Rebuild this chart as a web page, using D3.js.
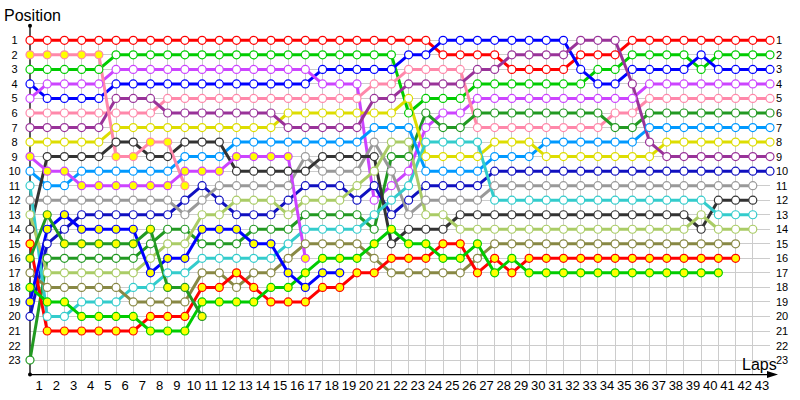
<!DOCTYPE html>
<html><head><meta charset="utf-8">
<script src="https://cdn.jsdelivr.net/npm/d3@7"></script>
<style>
body{margin:0;background:#fff}
svg text{font-family:"Liberation Sans",Arial,sans-serif;fill:#000}
</style></head>
<body><svg id="chart" width="800" height="400"></svg>
<script>
// ---- data (position per lap, laps 0..43; null = not running) ----
const lapTicks = d3.range(1, 44);
const posTicks = d3.range(1, 24);
const driverNames = ["A","B","C","D","E","F","G","H","I","J","K","L","M","N","O","P","Q","R","S","T","U"];
const posA = [1,1,1,1,1,1,1,1,1,1, 1,1,1,1,1,1,1,1,1,1, 1,1,1,1,2,2,2,2,3,3, 3,3,2,2,2,1,1,1,1,1, 1,1,1,1];
const posB = [3,3,3,3,3,2,2,2,2,2, 2,2,2,2,2,2,2,2,2,2, 2,2,6,5,5,5,4,4,4,4, 4,4,4,3,3,2,2,2,2,3, 2,2,2,2];
const posC = [4,5,5,5,5,4,4,4,4,4, 4,4,4,4,4,4,4,3,3,3, 3,3,2,2,1,1,1,1,1,1, 1,1,3,4,4,3,3,3,3,2, 3,3,3,3];
const posD = [5,4,4,4,4,3,3,3,3,3, 3,3,3,3,3,3,3,4,4,4, 12,11,10,7,6,6,5,5,5,5, 5,5,5,5,5,5,4,4,4,4, 4,4,4,4];
const posE = [6,6,6,6,6,6,6,6,5,5, 5,5,5,5,5,5,5,5,5,5, 4,4,3,3,3,3,7,7,7,7, 7,7,7,7,6,6,5,5,5,5, 5,5,5,5];
const posF = [23,16,16,16,16,16,16,15,14,14, 15,15,15,14,14,14,13,13,13,13, 14,9,9,6,7,7,6,6,6,6, 6,6,6,6,7,7,6,6,6,6, 6,6,6,6];
const posG = [10,11,11,10,10,10,10,10,10,9, 9,9,8,8,8,8,8,8,8,8, 7,7,7,10,10,10,10,9,9,9, 8,8,8,8,8,8,7,7,7,7, 7,7,7,7];
const posH = [8,8,8,8,8,7,7,7,7,7, 7,7,7,7,7,6,6,6,6,6, 6,6,5,9,9,9,9,8,8,8, 9,9,9,9,9,9,9,8,8,8, 8,8,8,8];
const posI = [7,7,7,7,7,5,5,5,6,6, 6,6,6,6,6,7,7,7,7,7, 5,5,4,4,4,4,3,3,2,2, 2,2,1,1,1,4,8,9,9,9, 9,9,9,9];
const posJ = [20,15,14,13,13,13,13,13,13,12, 11,12,13,13,13,12,11,11,11,12, 11,13,12,11,11,11,11,10,10,10, 10,10,10,10,10,10,10,10,10,10, 10,10,10,10];
const posK = [12,12,12,12,12,12,12,12,12,13, 12,11,11,11,11,11,9,10,10,10, 8,10,13,12,12,12,12,11,11,11, 11,11,11,11,11,11,11,11,11,11, 11,11,11,null];
const posL = [14,9,9,9,9,8,8,9,9,8, 8,8,10,10,10,10,10,9,9,9, 9,15,14,14,14,13,13,13,13,13, 13,13,13,13,13,13,13,13,13,14, 12,12,12,null];
const posM = [11,20,20,19,19,19,18,18,17,17, 16,16,16,16,16,15,14,14,14,14, 13,12,11,8,8,8,8,12,12,12, 12,12,12,12,12,12,12,12,12,12, 13,13,13,null];
const posN = [13,17,17,17,17,17,17,16,15,15, 13,13,12,12,12,13,12,12,12,11, 10,8,8,13,13,14,14,14,14,14, 14,14,14,14,14,14,14,14,14,13, 14,14,14,null];
const posO = [17,18,18,18,18,18,19,19,19,19, 17,17,18,17,17,16,15,15,15,15, 16,17,17,17,17,17,16,15,15,15, 15,15,15,15,15,15,15,15,15,15, 15,15,null,null];
const posP = [15,21,21,21,21,21,21,20,20,20, 18,18,17,18,19,19,19,18,18,17, 17,16,16,16,15,15,17,16,17,16, 16,16,16,16,16,16,16,16,16,16, 16,16,null,null];
const posQ = [18,19,19,20,20,20,20,21,21,21, 19,19,19,19,18,18,17,16,16,16, 15,14,15,15,16,16,15,17,16,17, 17,17,17,17,17,17,17,17,17,17, 17,null,null,null];
const posR = [2,2,2,2,2,9,9,8,8,11];
const posS = [9,10,10,11,11,11,11,11,11,10, 10,10,9,9,9,9,16];
const posT = [19,14,13,14,14,14,14,17,16,16, 14,14,14,15,15,17,18,17,17];
const posU = [16,13,15,15,15,15,15,14,18,18, 20];

// ---- styles ----
const lineColors = ["#ff0000","#00cc00","#0000ff","#cc44ff","#ff88aa","#229922","#0099ff","#dddd00","#993399","#1010c0","#999999","#333333","#33cccc","#aacc66","#888844","#ff0000","#00cc00","#ff88aa","#cc44ff","#0000ff","#229922"];
const markerFill = ["#fff","#fff","#fff","#fff","#fff","#fff","#fff","#fff","#fff","#fff","#fff","#fff","#fff","#fff","#fff","#ffff00","#ffff00","#ffff00","#ffff00","#ffff00","#ffff00"];
const series = [posA,posB,posC,posD,posE,posF,posG,posH,posI,posJ,posK,posL,posM,posN,posO,posP,posQ,posR,posS,posT,posU];

const svg = d3.select("#chart");
const x = d3.scaleLinear().domain([0, 43]).range([30, 770]);
const y = d3.scaleLinear().domain([0, 24]).range([25.8, 374.6]);
const step = x(1) - x(0);

// grid
const grid = svg.append("g").attr("stroke", "#cccccc").attr("stroke-width", 1);
grid.selectAll("line.v").data(d3.range(1, 43)).join("line").attr("class","v")
  .attr("x1", d => x(d)).attr("x2", d => x(d)).attr("y1", y(1)).attr("y2", y(24)).attr("shape-rendering","crispEdges");
grid.selectAll("line.h").data(posTicks).join("line").attr("class","h")
  .attr("x1", x(0)).attr("x2", x(43)).attr("y1", d => y(d)).attr("y2", d => y(d)).attr("shape-rendering","crispEdges");

// axes labels
const bottom = svg.append("g").attr("transform", `translate(0,${y(24)})`)
  .call(d3.axisBottom(x).tickValues(lapTicks).tickSize(0).tickPadding(6).tickFormat(d3.format("d")));
bottom.select(".domain").remove();
bottom.selectAll("text").attr("dx", -step/2).attr("font-size", 13).attr("font-family", "Liberation Sans, Arial, sans-serif");

const left = svg.append("g").attr("transform", "translate(14.5,0)")
  .call(d3.axisLeft(y).tickValues(posTicks).tickSize(0).tickPadding(0).tickFormat(d3.format("d")));
left.select(".domain").remove();
left.selectAll("text").attr("text-anchor", "middle").attr("font-size", 11).attr("font-family", "Liberation Sans, Arial, sans-serif");

const right = svg.append("g").attr("transform", "translate(776,0)")
  .call(d3.axisRight(y).tickValues(posTicks).tickSize(0).tickPadding(0).tickFormat(d3.format("d")));
right.select(".domain").remove();
right.selectAll("text").attr("font-size", 11).attr("font-family", "Liberation Sans, Arial, sans-serif");

// axis lines
svg.append("line").attr("x1", x(0)).attr("x2", x(0)).attr("y1", y(0)).attr("y2", y(24)).attr("stroke", "#000").attr("stroke-width", 1.3);
svg.append("line").attr("x1", x(0)).attr("x2", 770).attr("y1", y(24)).attr("y2", y(24)).attr("stroke", "#000").attr("stroke-width", 1.3);
svg.append("path").attr("d", `M767,${y(24)-3.5} L778,${y(24)} L767,${y(24)+3.5} Z`).attr("fill", "#000");
svg.append("circle").attr("cx", x(0)).attr("cy", y(0)).attr("r", 2).attr("fill", "#000");
svg.append("circle").attr("cx", x(0)).attr("cy", y(24)).attr("r", 2).attr("fill", "#000");

svg.append("text").attr("x", 4).attr("y", 21).attr("font-size", 16).text("Position");
svg.append("text").attr("x", 742).attr("y", 370).attr("font-size", 16).text("Laps");

// lines
const lineGen = d3.line().defined(d => d != null).x((d, i) => x(i)).y(d => y(d));
svg.append("g").selectAll("path").data(series).join("path")
  .attr("d", d => lineGen(d)).attr("fill", "none")
  .attr("stroke", (d, i) => lineColors[i]).attr("stroke-width", 3).attr("stroke-linejoin", "round");

// markers
series.forEach((s, k) => {
  svg.append("g").selectAll("circle").data(s.map((p, i) => ({p, i})).filter(d => d.p != null)).join("circle")
    .attr("cx", d => x(d.i)).attr("cy", d => y(d.p)).attr("r", 4)
    .attr("fill", markerFill[k]).attr("stroke", lineColors[k]).attr("stroke-width", 1.2);
});
</script></body></html>
